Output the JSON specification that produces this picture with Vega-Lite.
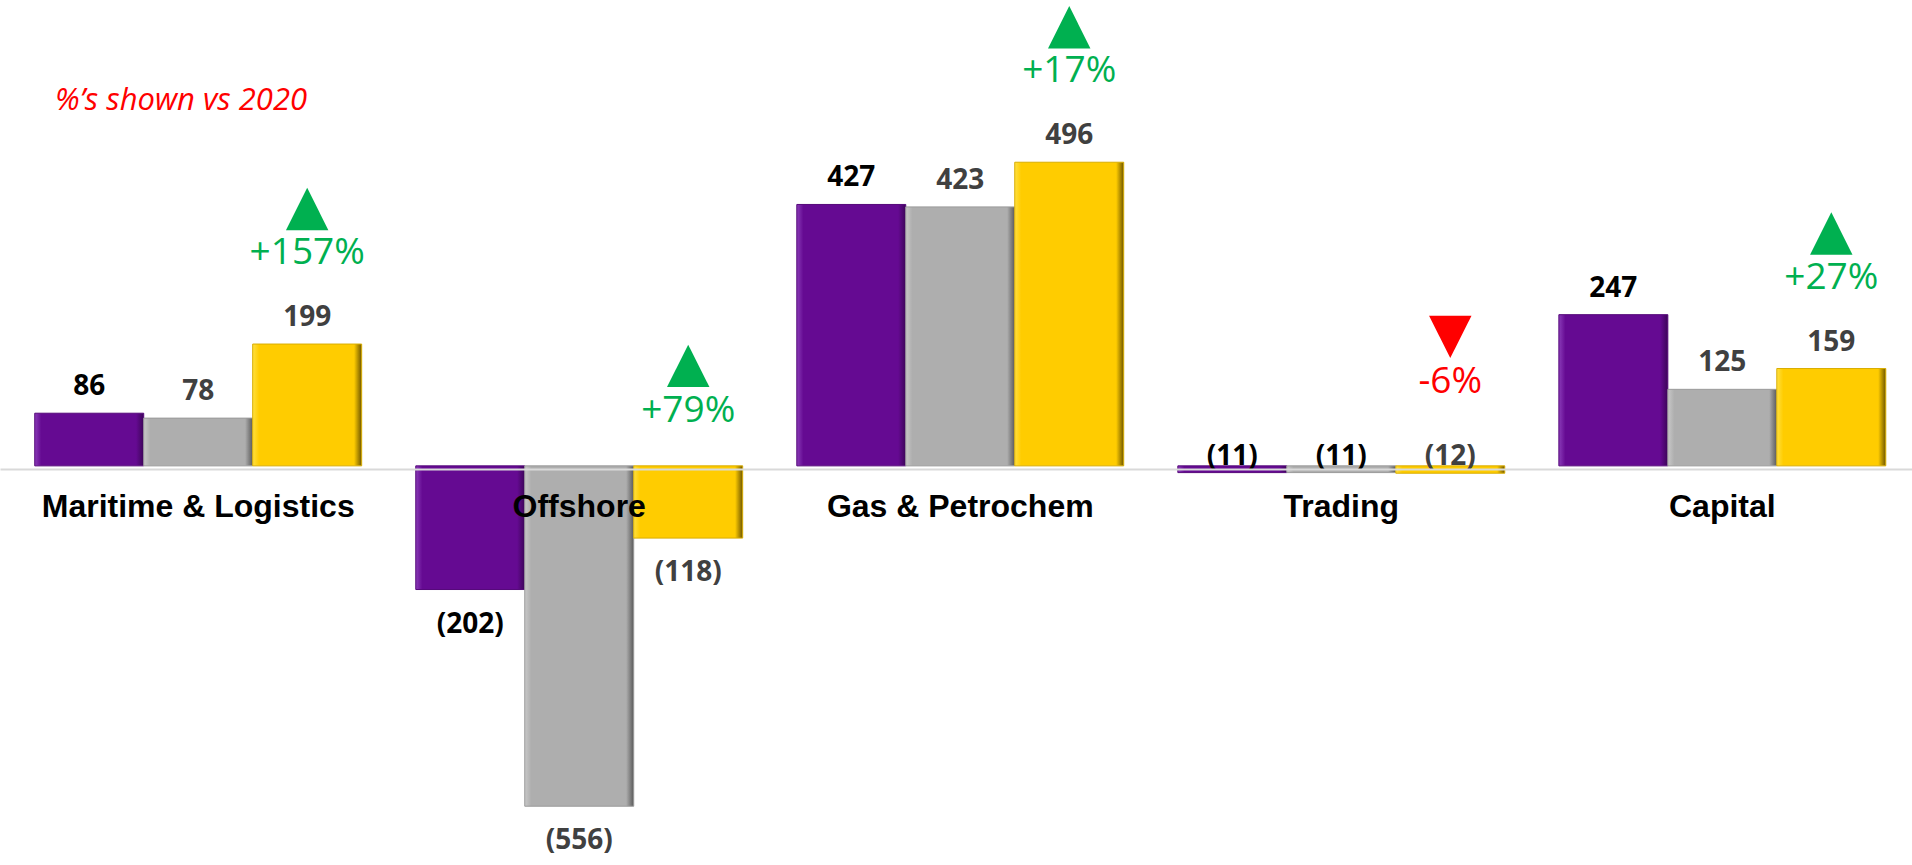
{
  "$schema": "https://vega.github.io/schema/vega-lite/v6.json",
  "width": 1912,
  "height": 865,
  "autosize": "none",
  "padding": 0,
  "background": "white",
  "config": {"view": {"stroke": null}},
  "title": {
    "text": "%’s shown vs 2020",
    "anchor": "start",
    "frame": "group",
    "orient": "top",
    "offset": -141,
    "dx": 55,
    "baseline": "alphabetic",
    "font": "Open Sans",
    "fontStyle": "italic",
    "fontWeight": "normal",
    "fontSize": 31,
    "color": "#FF0000"
  },
  "data": {
    "values": [
      {"segment": "Maritime & Logistics", "series": "2019", "value": 86},
      {"segment": "Maritime & Logistics", "series": "2020", "value": 78},
      {"segment": "Maritime & Logistics", "series": "2021", "value": 199, "change": "+157%", "dir": "up"},
      {"segment": "Offshore", "series": "2019", "value": -202},
      {"segment": "Offshore", "series": "2020", "value": -556},
      {"segment": "Offshore", "series": "2021", "value": -118, "change": "+79%", "dir": "up"},
      {"segment": "Gas & Petrochem", "series": "2019", "value": 427},
      {"segment": "Gas & Petrochem", "series": "2020", "value": 423},
      {"segment": "Gas & Petrochem", "series": "2021", "value": 496, "change": "+17%", "dir": "up"},
      {"segment": "Trading", "series": "2019", "value": -11},
      {"segment": "Trading", "series": "2020", "value": -11},
      {"segment": "Trading", "series": "2021", "value": -12, "change": "-6%", "dir": "down"},
      {"segment": "Capital", "series": "2019", "value": 247},
      {"segment": "Capital", "series": "2020", "value": 125},
      {"segment": "Capital", "series": "2021", "value": 159, "change": "+27%", "dir": "up"}
    ]
  },
  "encoding": {
    "x": {
      "field": "segment",
      "type": "nominal",
      "sort": null,
      "scale": {
        "domain": ["Maritime & Logistics", "Offshore", "Gas & Petrochem", "Trading", "Capital"],
        "paddingInner": 0.142,
        "paddingOuter": 0.08,
        "align": 0.57
      },
      "axis": {
        "title": null,
        "orient": "bottom",
        "offset": -396,
        "ticks": false,
        "domainColor": "#D9D9D9",
        "domainWidth": 2,
        "labelPadding": 22,
        "labelLimit": 0,
        "labelFont": "Liberation Sans",
        "labelFontWeight": "bold",
        "labelFontSize": 32,
        "labelColor": "#000000",
        "labelAngle": 0,
        "zindex": 1
      }
    },
    "xOffset": {
      "field": "series",
      "type": "nominal",
      "scale": {"domain": ["2019", "2020", "2021"], "paddingInner": 0, "paddingOuter": 0}
    },
    "y": {
      "field": "value",
      "type": "quantitative",
      "scale": {"domain": [-652, 761], "nice": false, "zero": false},
      "axis": null
    }
  },
  "layer": [
    {
      "transform": [{"filter": "datum.series === '2019'"}],
      "mark": {
        "type": "bar",
        "fill": {"gradient": "linear", "x1": 0, "y1": 0, "x2": 1, "y2": 0,
          "stops": [{"offset": 0, "color": "#8A3BB8"}, {"offset": 0.06, "color": "#650A92"}, {"offset": 0.93, "color": "#650A92"}, {"offset": 1, "color": "#3C0558"}]},
        "stroke": "#55087A",
        "strokeWidth": 1
      }
    },
    {
      "transform": [{"filter": "datum.series === '2020'"}],
      "mark": {
        "type": "bar",
        "fill": {"gradient": "linear", "x1": 0, "y1": 0, "x2": 1, "y2": 0,
          "stops": [{"offset": 0, "color": "#C8C8C8"}, {"offset": 0.06, "color": "#AEAEAE"}, {"offset": 0.93, "color": "#AEAEAE"}, {"offset": 1, "color": "#5A5A5A"}]},
        "stroke": "#9A9A9A",
        "strokeWidth": 1
      }
    },
    {
      "transform": [{"filter": "datum.series === '2021'"}],
      "mark": {
        "type": "bar",
        "fill": {"gradient": "linear", "x1": 0, "y1": 0, "x2": 1, "y2": 0,
          "stops": [{"offset": 0, "color": "#FFE040"}, {"offset": 0.06, "color": "#FFCC00"}, {"offset": 0.93, "color": "#FFCC00"}, {"offset": 1, "color": "#6E5600"}]},
        "stroke": "#D9AD00",
        "strokeWidth": 1
      }
    },
    {
      "transform": [{"filter": "datum.value > 0"}],
      "mark": {"type": "text", "baseline": "alphabetic", "dy": -18, "font": "Open Sans", "fontWeight": "bold", "fontSize": 28},
      "encoding": {
        "text": {"field": "value", "type": "quantitative", "format": "(d"},
        "color": {"condition": {"test": "datum.series === '2019'", "value": "#000000"}, "value": "#404040"}
      }
    },
    {
      "transform": [{"filter": "datum.value < -50"}],
      "mark": {"type": "text", "baseline": "alphabetic", "dy": 43, "font": "Open Sans", "fontWeight": "bold", "fontSize": 28},
      "encoding": {
        "text": {"field": "value", "type": "quantitative", "format": "(d"},
        "color": {"condition": {"test": "datum.series === '2019'", "value": "#000000"}, "value": "#404040"}
      }
    },
    {
      "transform": [{"filter": "datum.value <= 0 && datum.value >= -50"}],
      "mark": {"type": "text", "baseline": "alphabetic", "dy": -8, "font": "Open Sans", "fontWeight": "bold", "fontSize": 28},
      "encoding": {
        "text": {"field": "value", "type": "quantitative", "format": "(d"},
        "color": {"condition": {"test": "datum.series === '2021'", "value": "#404040"}, "value": "#000000"}
      }
    },
    {
      "transform": [{"filter": "datum.change != null && datum.value > 0"}],
      "mark": {"type": "point", "filled": true, "size": 1800, "opacity": 1, "strokeWidth": 0, "yOffset": -135},
      "encoding": {
        "shape": {"condition": {"test": "datum.dir === 'down'", "value": "M-1,-1L1,-1L0,1Z"}, "value": "M0,-1L1,1L-1,1Z"},
        "color": {"condition": {"test": "datum.dir === 'down'", "value": "#FF0000"}, "value": "#00B050"}
      }
    },
    {
      "transform": [{"filter": "datum.change != null && datum.value > 0"}],
      "mark": {"type": "text", "baseline": "alphabetic", "dy": -80, "font": "Open Sans", "fontSize": 37},
      "encoding": {
        "text": {"field": "change"},
        "color": {"condition": {"test": "datum.dir === 'down'", "value": "#FF0000"}, "value": "#00B050"}
      }
    },
    {
      "transform": [{"filter": "datum.change != null && datum.value < -50"}],
      "mark": {"type": "point", "filled": true, "size": 1800, "opacity": 1, "strokeWidth": 0, "yOffset": -100},
      "encoding": {
        "y": {"datum": 0, "type": "quantitative"},
        "shape": {"condition": {"test": "datum.dir === 'down'", "value": "M-1,-1L1,-1L0,1Z"}, "value": "M0,-1L1,1L-1,1Z"},
        "color": {"condition": {"test": "datum.dir === 'down'", "value": "#FF0000"}, "value": "#00B050"}
      }
    },
    {
      "transform": [{"filter": "datum.change != null && datum.value < -50"}],
      "mark": {"type": "text", "baseline": "alphabetic", "dy": -44, "font": "Open Sans", "fontSize": 37},
      "encoding": {
        "y": {"datum": 0, "type": "quantitative"},
        "text": {"field": "change"},
        "color": {"condition": {"test": "datum.dir === 'down'", "value": "#FF0000"}, "value": "#00B050"}
      }
    },
    {
      "transform": [{"filter": "datum.change != null && datum.value <= 0 && datum.value >= -50"}],
      "mark": {"type": "point", "filled": true, "size": 1800, "opacity": 1, "strokeWidth": 0, "yOffset": -129},
      "encoding": {
        "y": {"datum": 0, "type": "quantitative"},
        "shape": {"condition": {"test": "datum.dir === 'down'", "value": "M-1,-1L1,-1L0,1Z"}, "value": "M0,-1L1,1L-1,1Z"},
        "color": {"condition": {"test": "datum.dir === 'down'", "value": "#FF0000"}, "value": "#00B050"}
      }
    },
    {
      "transform": [{"filter": "datum.change != null && datum.value <= 0 && datum.value >= -50"}],
      "mark": {"type": "text", "baseline": "alphabetic", "dy": -73, "font": "Open Sans", "fontSize": 37},
      "encoding": {
        "y": {"datum": 0, "type": "quantitative"},
        "text": {"field": "change"},
        "color": {"condition": {"test": "datum.dir === 'down'", "value": "#FF0000"}, "value": "#00B050"}
      }
    }
  ]
}
